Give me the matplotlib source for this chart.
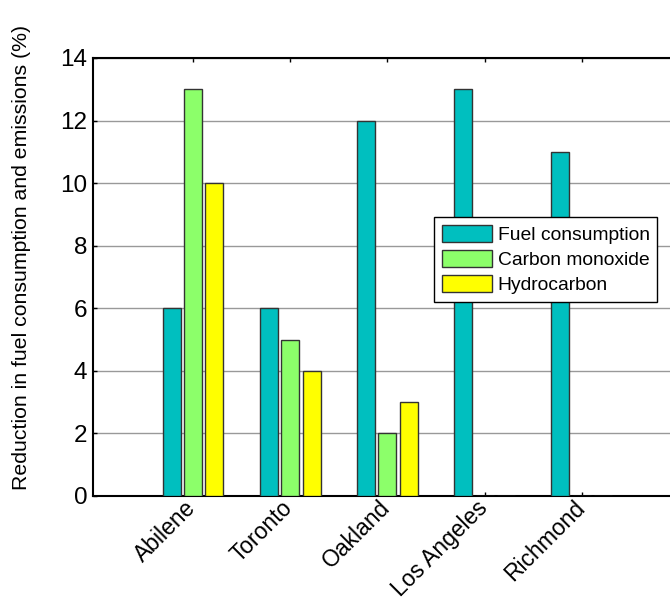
import numpy as np
import matplotlib.pyplot as plt
import matplotlib.transforms as mtrans

plt.rcParams['font.family'] = ['Liberation Sans', 'DejaVu Sans']

cities = ['Abilene', 'Toronto', 'Oakland', 'Los Angeles', 'Richmond']
fuel = [6, 6, 12, 13, 11]
co = [13, 5, 2, 0, 0]
hc = [10, 4, 3, 0, 0]
series_names = ['Fuel consumption', 'Carbon monoxide', 'Hydrocarbon']
colors = ['#00BFBF', '#8CFF6A', '#FFFF00']

fig = plt.figure(figsize=(6.7, 6.01), dpi=100)
# axes run past the right edge of the figure like the original
ax = fig.add_axes([93/670, 105/601, 586/670, 438/601])

x = np.arange(1, len(cities) + 1)
w = 0.185
off = 0.22
for i, (vals, name, c) in enumerate(zip([fuel, co, hc], series_names, colors)):
    ax.bar(x + (i - 1) * off, vals, w, color=c, edgecolor='#333333',
           linewidth=1.0, label=name, zorder=3)

ax.set_xlim(-0.03, 6.0)
ax.set_ylim(0, 14)
ax.set_yticks(range(0, 15, 2))
ax.set_xticks(x)
ax.set_xticklabels(cities, rotation=45, ha='right', rotation_mode='anchor')
ax.yaxis.grid(True, color='#999999', linewidth=1.0, zorder=0)
ax.tick_params(axis='both', direction='in', length=3, top=True, width=1)
ax.tick_params(axis='y', labelsize=17.5, pad=4)
ax.tick_params(axis='x', labelsize=16.5, pad=0)
shift = mtrans.ScaledTranslation(-9/100, 0, fig.dpi_scale_trans)
for lab in ax.get_xticklabels():
    lab.set_transform(lab.get_transform() + shift)
for s in ax.spines.values():
    s.set_linewidth(1.5)

ax.set_ylabel('Reduction in fuel consumption and emissions (%)', fontsize=15.3)
ax.yaxis.set_label_coords(-0.106, 0.545)

leg = ax.legend(loc='upper left', bbox_to_anchor=((434 - 93) / 586, (496 - 217) / 438),
                fontsize=13.9, fancybox=False, framealpha=1, edgecolor='black',
                borderpad=0.4, handlelength=2.6, handleheight=1.0,
                labelspacing=0.3, handletextpad=0.3, borderaxespad=0)
leg.get_frame().set_linewidth(1.0)

plt.savefig('out.png', dpi=100)
